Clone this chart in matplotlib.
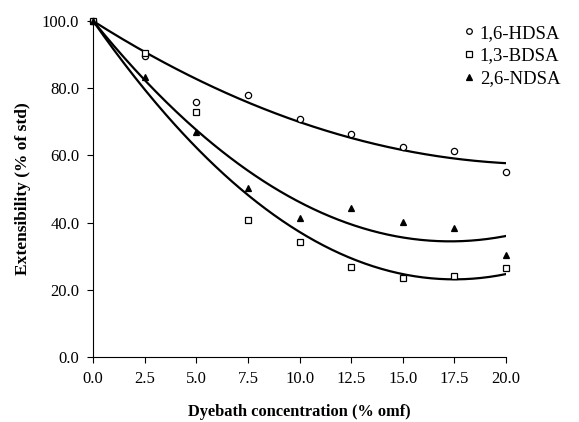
import numpy as np
import matplotlib
matplotlib.use("Agg")
import matplotlib.pyplot as plt

plt.rcParams['font.family'] = ['Liberation Serif', 'DejaVu Serif']

conc = [0.0, 2.5, 5.0, 7.5, 10.0, 12.5, 15.0, 17.5, 20.0]
hdsa = [100.0, 89.6, 75.8, 78.0, 70.8, 66.5, 62.5, 61.2, 55.0]
bdsa = [100.0, 90.5, 73.0, 40.8, 34.2, 26.8, 23.5, 24.2, 26.5]
ndsa = [100.0, 83.3, 67.0, 50.2, 41.3, 44.3, 40.3, 38.3, 30.5]

XTICKS = [0.0, 2.5, 5.0, 7.5, 10.0, 12.5, 15.0, 17.5, 20.0]
YTICKS = [0, 20, 40, 60, 80, 100]


def trend(x, y):
    # quadratic trendline forced through the 100% start value
    x = np.asarray(x)
    y0 = y[0]
    y = np.asarray(y) - y0
    A = np.column_stack([x, x ** 2])
    coef, *_ = np.linalg.lstsq(A, y, rcond=None)
    xs = np.linspace(0, 20, 200)
    return xs, y0 + coef[0] * xs + coef[1] * xs ** 2


fig = plt.figure(figsize=(5.79, 4.22), dpi=100)
ax = fig.add_axes([0.161, 0.154, 0.713, 0.796])

series = [
    ("1,6-HDSA", hdsa, dict(marker='o', mfc='white')),
    ("1,3-BDSA", bdsa, dict(marker='s', mfc='white')),
    ("2,6-NDSA", ndsa, dict(marker='^', mfc='black')),
]
handles = []
for name, vals, mk in series:
    xs, ys = trend(conc, vals)
    ax.plot(xs, ys, color='black', lw=1.6)
    h, = ax.plot(conc, vals, ls='none', mec='black', mew=0.9, ms=4.5,
                 label=name, clip_on=False, **mk)
    handles.append(h)

ax.set_xlim(0, 20)
ax.set_ylim(0, 100)
ax.set_xticks(XTICKS)
ax.set_xticklabels([f"{v:.1f}" for v in XTICKS])
ax.set_yticks(YTICKS)
ax.set_yticklabels([f"{v:.1f}" for v in YTICKS])
ax.tick_params(direction='out', length=4, width=0.8, labelsize=12, pad=6)
for s in ['top', 'right']:
    ax.spines[s].set_visible(False)
ax.spines['left'].set_linewidth(0.8)
ax.spines['bottom'].set_linewidth(0.8)

ax.set_xlabel("Dyebath concentration (% omf)", fontsize=11.8, fontweight='bold', labelpad=12)
ax.set_ylabel("Extensibility (% of std)", fontsize=12.5, fontweight='bold', labelpad=8)

fig.legend(handles=handles, loc='upper right', bbox_to_anchor=(0.997, 0.982),
           frameon=False, fontsize=13.5, handlelength=0.5, handletextpad=0.35,
           labelspacing=0.3, markerscale=0.9)

fig.savefig("out.png", dpi=100)
